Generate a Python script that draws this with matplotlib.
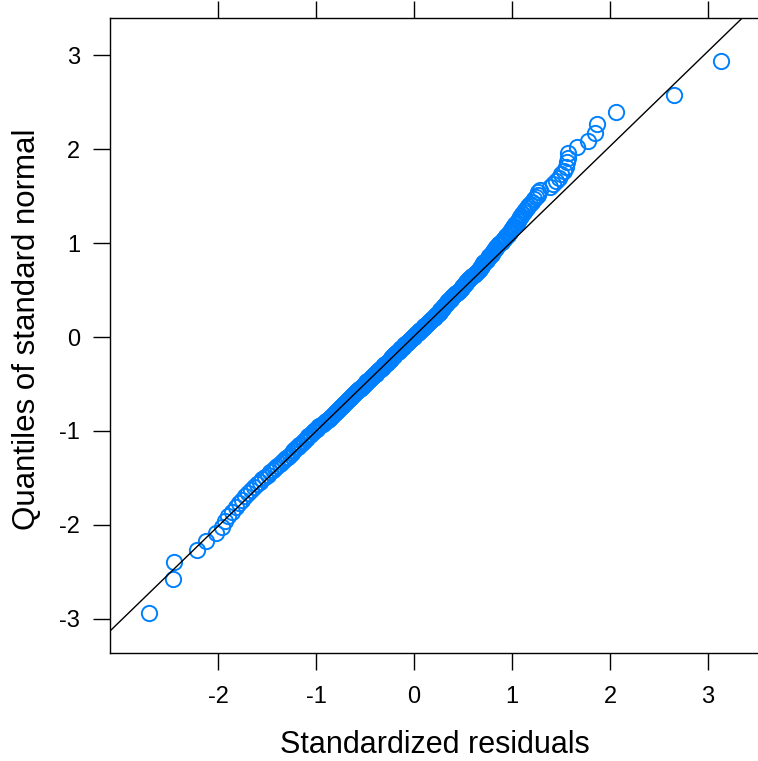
import numpy as np
import matplotlib
matplotlib.use("Agg")
import matplotlib.pyplot as plt
from statistics import NormalDist

plt.rcParams['font.family'] = ['Liberation Sans', 'DejaVu Sans']

# sorted standardized residuals (n = 300)
residuals = [
    -2.70, -2.46, -2.45, -2.21, -2.12, -2.02, -1.96, -1.93, -1.90, -1.86,
    -1.82, -1.79, -1.76, -1.72, -1.69, -1.66, -1.63, -1.60, -1.57, -1.55,
    -1.52, -1.49, -1.47, -1.44, -1.42, -1.40, -1.37, -1.35, -1.33, -1.31,
    -1.29, -1.27, -1.25, -1.23, -1.22, -1.20, -1.18, -1.17, -1.15, -1.13,
    -1.12, -1.10, -1.09, -1.08, -1.06, -1.05, -1.03, -1.02, -1.01, -0.99,
    -0.98, -0.97, -0.95, -0.93, -0.91, -0.90, -0.88, -0.87, -0.86, -0.85,
    -0.84, -0.82, -0.81, -0.80, -0.79, -0.78, -0.77, -0.76, -0.75, -0.73,
    -0.72, -0.71, -0.70, -0.69, -0.68, -0.67, -0.66, -0.65, -0.64, -0.63,
    -0.62, -0.61, -0.60, -0.59, -0.58, -0.57, -0.56, -0.55, -0.54, -0.53,
    -0.52, -0.51, -0.50, -0.49, -0.49, -0.48, -0.47, -0.46, -0.45, -0.44,
    -0.43, -0.42, -0.41, -0.40, -0.39, -0.39, -0.38, -0.37, -0.36, -0.35,
    -0.34, -0.33, -0.32, -0.32, -0.31, -0.30, -0.29, -0.28, -0.27, -0.26,
    -0.25, -0.25, -0.24, -0.23, -0.22, -0.21, -0.20, -0.20, -0.19, -0.18,
    -0.17, -0.16, -0.15, -0.14, -0.14, -0.13, -0.12, -0.11, -0.10, -0.10,
    -0.09, -0.08, -0.07, -0.06, -0.05, -0.05, -0.04, -0.03, -0.02, -0.01,
    0.00, 0.00, 0.01, 0.02, 0.03, 0.04, 0.05, 0.05, 0.06, 0.07,
    0.08, 0.09, 0.10, 0.10, 0.11, 0.12, 0.13, 0.14, 0.15, 0.15,
    0.16, 0.17, 0.18, 0.19, 0.20, 0.21, 0.21, 0.22, 0.23, 0.24,
    0.25, 0.26, 0.26, 0.27, 0.28, 0.29, 0.30, 0.30, 0.31, 0.32,
    0.32, 0.33, 0.34, 0.34, 0.35, 0.36, 0.37, 0.38, 0.38, 0.39,
    0.40, 0.41, 0.42, 0.43, 0.44, 0.45, 0.46, 0.47, 0.48, 0.49,
    0.49, 0.50, 0.51, 0.51, 0.52, 0.53, 0.53, 0.54, 0.55, 0.56,
    0.57, 0.58, 0.59, 0.61, 0.62, 0.63, 0.64, 0.65, 0.66, 0.67,
    0.67, 0.68, 0.69, 0.69, 0.70, 0.70, 0.71, 0.73, 0.74, 0.75,
    0.76, 0.77, 0.79, 0.80, 0.80, 0.81, 0.82, 0.83, 0.84, 0.84,
    0.86, 0.87, 0.88, 0.90, 0.91, 0.92, 0.93, 0.94, 0.96, 0.97,
    0.98, 0.99, 1.00, 1.01, 1.02, 1.03, 1.05, 1.06, 1.07, 1.08,
    1.09, 1.10, 1.12, 1.13, 1.15, 1.16, 1.18, 1.20, 1.22, 1.24,
    1.26, 1.27, 1.29, 1.39, 1.42, 1.45, 1.48, 1.50, 1.53, 1.55,
    1.56, 1.57, 1.57, 1.66, 1.78, 1.85, 1.87, 2.06, 2.65, 3.13,
]

# reference line (slope, intercept)
line_slope = 1.011
line_intercept = 0.008

x_ticks = [-2, -1, 0, 1, 2, 3]
y_ticks = [-3, -2, -1, 0, 1, 2, 3]

# theoretical normal quantiles at ppoints(n), as qqmath does
n = len(residuals)
quantiles = [NormalDist().inv_cdf((i - 0.5) / n) for i in range(1, n + 1)]

fig = plt.figure(figsize=(7.58, 7.61), dpi=100)
W, H = 758, 761
ax = fig.add_axes([110 / W, 1 - 653 / H, (760 - 110) / W, (653 - 18) / H])

ax.plot(residuals, quantiles, linestyle='none', marker='o', ms=11,
        mfc='none', mec='#0080FF', mew=1.4, zorder=2)

ax.set_xlim(-3.102, 3.53)
ax.set_ylim(-3.362, 3.394)
xs = np.array(ax.get_xlim())
ax.plot(xs, line_slope * xs + line_intercept, color='black', lw=1.0, zorder=3)

ax.set_xticks(x_ticks)
ax.set_xticklabels([str(t) for t in x_ticks])
ax.set_yticks(y_ticks)
ax.set_yticklabels([str(t) for t in y_ticks])
ax.tick_params(axis='both', direction='out', length=12.5, width=1.0,
               labelsize=17, color='black')
ax.tick_params(axis='x', top=True, labeltop=False, pad=11)
ax.tick_params(axis='y', right=False, pad=9)
for s in ax.spines.values():
    s.set_linewidth(1.0)

ax.set_xlabel('Standardized residuals', fontsize=22)
ax.xaxis.set_label_coords(0.5, -0.145)
ax.xaxis.label.set_va('center')
ax.set_ylabel('Quantiles of standard normal', fontsize=22.5)
ax.yaxis.set_label_coords(-0.128, 0.51)
ax.yaxis.label.set_va('center')

fig.savefig('out.png', dpi=100)
